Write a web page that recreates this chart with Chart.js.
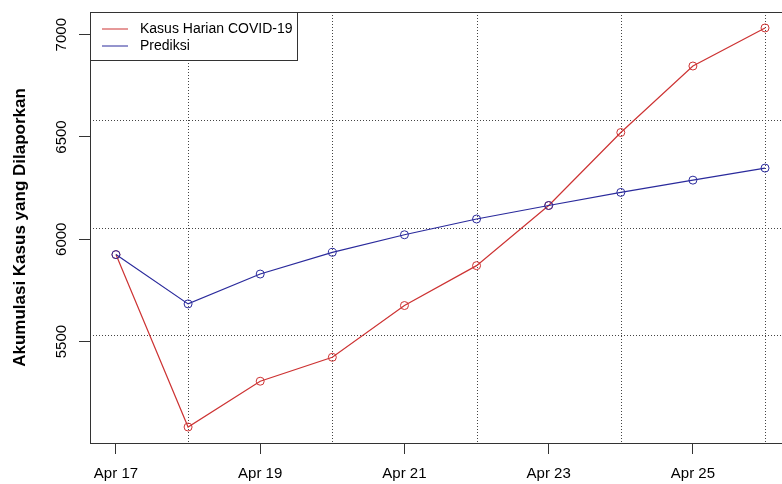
<!DOCTYPE html>
<html lang="id">
<head>
<meta charset="UTF-8">
<title>Akumulasi Kasus yang Dilaporkan</title>
<script src="https://cdn.jsdelivr.net/npm/chart.js@4.4.1/dist/chart.umd.min.js"></script>
<style>
  html, body { margin: 0; padding: 0; background: #fff; overflow: hidden; }
  #chart { display: block; }
</style>
</head>
<body>
<canvas id="chart" width="800" height="484"></canvas>
<script>
// data
const dates = ['Apr 17', 'Apr 18', 'Apr 19', 'Apr 20', 'Apr 21', 'Apr 22', 'Apr 23', 'Apr 24', 'Apr 25', 'Apr 26'];
const kasusHarian = [5925, 5082, 5306, 5423, 5676, 5871, 6165, 6522, 6847, 7033];
const prediksi = [5925, 5684, 5830, 5936, 6022, 6099, 6165, 6229, 6289, 6348];
const xTickIdx = [0, 2, 4, 6, 8];
const yTicks = [5500, 6000, 6500, 7000];
const vGridIdx = [1, 3, 5, 7, 9];

const RED = '#CD3333';
const BLUE = '#2A2A9C';
const INK = '#333';
const FONT = '"Liberation Sans", Arial, sans-serif';

// R style axis range: data range plus 4% on each side
const allVals = kasusHarian.concat(prediksi);
const yLo = Math.min(...allVals), yHi = Math.max(...allVals);
const yPad = (yHi - yLo) * 0.04;
const xPad = (dates.length - 1) * 0.04;

function series(values, color, label, order) {
    return {
        label: label,
        data: values.map((v, i) => ({ x: i, y: v })),
        borderColor: color,
        borderWidth: 1.2,
        pointRadius: 4,
        pointHoverRadius: 4,
        pointBorderWidth: 1,
        pointBorderColor: color,
        pointBackgroundColor: 'rgba(0,0,0,0)',
        tension: 0,
        order: order
    };
}

// box, dotted grid, rotated y labels and the legend, the way base R draws them
const rFrame = {
    id: 'rFrame',
    beforeDatasetsDraw(chart) {
        const { ctx, chartArea: a, scales: { x } } = chart;
        ctx.save();
        ctx.strokeStyle = '#444';
        ctx.lineWidth = 1;
        ctx.setLineDash([1, 2]);
        vGridIdx.forEach(i => {
            const px = Math.round(x.getPixelForValue(i)) + 0.5;
            ctx.beginPath();
            ctx.moveTo(px, a.top);
            ctx.lineTo(px, a.bottom);
            ctx.stroke();
        });
        for (let k = 1; k < 4; k++) {
            const py = Math.round(a.top + (a.bottom - a.top) * k / 4) + 0.5;
            ctx.beginPath();
            ctx.moveTo(a.left, py);
            ctx.lineTo(a.right, py);
            ctx.stroke();
        }
        ctx.restore();
    },
    afterDraw(chart) {
        const { ctx, chartArea: a, scales: { y } } = chart;
        ctx.save();
        ctx.strokeStyle = INK;
        ctx.lineWidth = 1;
        ctx.strokeRect(Math.round(a.left) + 0.5, Math.round(a.top) + 0.5,
            Math.round(a.right - a.left), Math.round(a.bottom - a.top));

        // y tick labels, parallel to the axis
        ctx.fillStyle = '#000';
        ctx.font = '15px ' + FONT;
        ctx.textAlign = 'center';
        ctx.textBaseline = 'middle';
        yTicks.forEach(v => {
            ctx.save();
            ctx.translate(a.left - 28, y.getPixelForValue(v));
            ctx.rotate(-Math.PI / 2);
            ctx.fillText(String(v), 0, 0);
            ctx.restore();
        });

        // legend box in the top left corner
        const lx = Math.round(a.left) + 0.5, ly = Math.round(a.top) + 0.5;
        ctx.fillStyle = '#fff';
        ctx.fillRect(lx, ly, 207, 48);
        ctx.strokeStyle = INK;
        ctx.strokeRect(lx, ly, 207, 48);
        ctx.font = '14px ' + FONT;
        ctx.textAlign = 'left';
        [chart.data.datasets[0], chart.data.datasets[1]].forEach((ds, i) => {
            const ry = a.top + 17 + i * 17;
            ctx.strokeStyle = ds.borderColor;
            ctx.lineWidth = 1;
            ctx.beginPath();
            ctx.moveTo(a.left + 12, ry);
            ctx.lineTo(a.left + 38, ry);
            ctx.stroke();
            ctx.fillStyle = '#000';
            ctx.fillText(ds.label, a.left + 50, ry);
        });
        ctx.restore();
    }
};

new Chart(document.getElementById('chart'), {
    type: 'line',
    data: {
        datasets: [
            series(kasusHarian, RED, 'Kasus Harian COVID-19', 1),
            series(prediksi, BLUE, 'Prediksi', 0)
        ]
    },
    options: {
        responsive: false,
        animation: false,
        events: [],
        layout: { padding: { left: 0, top: 12, right: 9, bottom: 0 } },
        plugins: {
            legend: { display: false },
            tooltip: { enabled: false }
        },
        scales: {
            x: {
                type: 'linear',
                min: -xPad,
                max: dates.length - 1 + xPad,
                afterBuildTicks: s => { s.ticks = xTickIdx.map(v => ({ value: v })); },
                afterFit: s => { s.height = 41; },
                border: { display: false },
                grid: { drawOnChartArea: false, drawTicks: true, tickLength: 11, color: INK },
                ticks: {
                    callback: v => dates[v],
                    font: { family: FONT, size: 15 },
                    color: '#000',
                    padding: 11,
                    maxRotation: 0,
                    autoSkip: false
                }
            },
            y: {
                min: yLo - yPad,
                max: yHi + yPad,
                afterBuildTicks: s => { s.ticks = yTicks.map(v => ({ value: v })); },
                afterFit: s => { s.width = 90; },
                border: { display: false },
                grid: { drawOnChartArea: false, drawTicks: true, tickLength: 11, color: INK },
                ticks: { display: false },
                title: {
                    display: true,
                    text: 'Akumulasi Kasus yang Dilaporkan',
                    font: { family: FONT, size: 17, weight: 'bold' },
                    color: '#000',
                    padding: { top: 10, bottom: 0 }
                }
            }
        }
    },
    plugins: [rFrame]
});
</script>
</body>
</html>
